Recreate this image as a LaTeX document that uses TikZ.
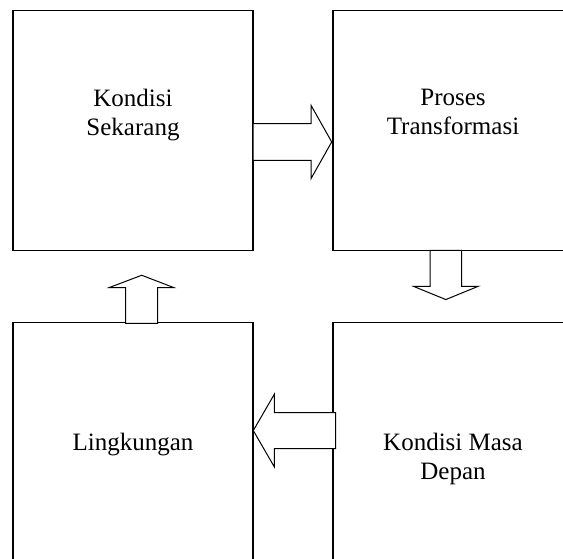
\documentclass[tikz,border=0pt]{standalone}
\usepackage{fontspec}
\setmainfont{Liberation Serif}
\usetikzlibrary{calc}
\usetikzlibrary{positioning}

\begin{document}
\begin{tikzpicture}[x=1pt,y=1pt,
kotak/.style={draw,line width=1.3pt,minimum width=240pt,minimum height=240pt,inner sep=0pt,outer sep=0pt},
teks/.style={align=center,inner sep=0pt,font=\fontsize{25}{29.3}\selectfont},
panah/.style={draw,fill=white,line width=1pt,line join=miter}]

\useasboundingbox (0,0) rectangle (563,-558);
\clip (0,0) rectangle (563,-558);

\node[kotak] (kini) at (133,-130.25) {};
\node[kotak,right=80pt of kini] (proses) {};
\node[kotak,below=72pt of kini] (lingkungan) {};
\node[kotak,below=72pt of proses] (depan) {};

\node[teks,below=78.3pt of kini.north] (tkini) {Kondisi\\Sekarang};
\node[teks,below=78.3pt of proses.north] (tproses) {Proses\\Transformasi};
\node[teks,below=110.2pt of lingkungan.north] (tlingkungan) {Lingkungan};
\node[teks,below=110.2pt of depan.north] (tdepan) {Kondisi Masa\\Depan};

\draw[panah] ($(kini.east)+(0,6.7)$) -- ++(58,0) -- ++(0,18.3) -- ++(20.7,-36.7)
  -- ++(-20.7,-36.7) -- ++(0,18.3) -- ++(-58,0) -- cycle;
\draw[panah] ($(proses.south)+(-23,0)$) -- ++(0,-36) -- ++(-16.7,0) -- ++(32.5,-13.3)
  -- ++(32.5,13.3) -- ++(-16.6,0) -- ++(0,36) -- cycle;
\draw[panah] ($(depan.west)+(2.7,29.7)$) -- ++(-61.4,0) -- ++(0,18.3) -- ++(-21,-36.3)
  -- ++(21,-36.3) -- ++(0,18.3) -- ++(61.4,0) -- cycle;
\draw[panah] ($(lingkungan.north)+(-7.3,-1)$) -- ++(0,35.7) -- ++(-16.4,0) -- ++(32.4,12.3)
  -- ++(32,-12.3) -- ++(-16,0) -- ++(0,-35.7) -- cycle;

\end{tikzpicture}
\end{document}
